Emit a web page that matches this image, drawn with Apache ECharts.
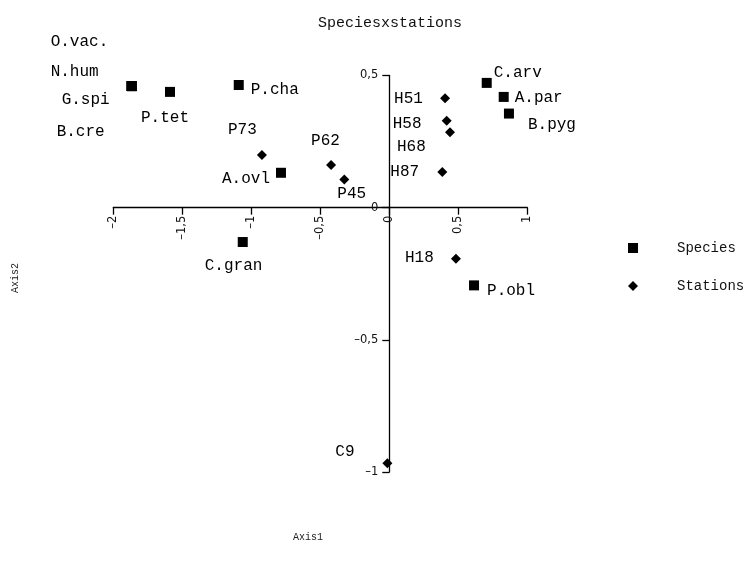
<!DOCTYPE html>
<html>
<head>
<meta charset="utf-8">
<script src="https://cdn.jsdelivr.net/npm/echarts@6/dist/echarts.min.js"></script>
<style>
  html, body { margin: 0; padding: 0; background: #fff; }
  #chart { width: 746px; height: 570px; }
</style>
</head>
<body>
<div id="chart"></div>
<script>
// Ordination scores: species and stations on the first two axes
const speciesNames = ['O.vac.', 'N.hum', 'G.spi', 'B.cre', 'P.tet', 'P.cha', 'A.ovl', 'C.gran', 'C.arv', 'A.par', 'B.pyg', 'P.obl'];
const speciesAxis1 = [-1.867, -1.867, -1.867, -1.867, -1.589, -1.091, -0.785, -1.062, 0.706, 0.829, 0.867, 0.614];
const speciesAxis2 = [0.460, 0.460, 0.460, 0.460, 0.438, 0.464, 0.132, -0.130, 0.472, 0.419, 0.356, -0.294];

const stationNames = ['P73', 'P62', 'P45', 'H51', 'H58', 'H68', 'H87', 'H18', 'C9'];
const stationAxis1 = [-0.923, -0.422, -0.326, 0.404, 0.416, 0.440, 0.384, 0.483, -0.014];
const stationAxis2 = [0.199, 0.161, 0.107, 0.414, 0.329, 0.285, 0.135, -0.193, -0.967];

const axis1Ticks = { min: -2, max: 1, interval: 0.5 };
const axis2Ticks = { min: -1, max: 0.5, interval: 0.5 };

// Where each point's name sits relative to its marker (text left edge, text middle)
const labelOffsets = {
  'O.vac.': [-81, -44], 'N.hum': [-81, -14], 'G.spi': [-70, 14], 'B.cre': [-75, 46],
  'P.tet': [-29, 26], 'P.cha': [12, 5], 'A.ovl': [-59, 6], 'C.gran': [-38, 24],
  'C.arv': [7, -10], 'A.par': [11, 1], 'B.pyg': [19, 11], 'P.obl': [13, 5],
  'P73': [-34, -25], 'P62': [-20, -24], 'P45': [-7, 14], 'H51': [-51, 1],
  'H58': [-54, 3], 'H68': [-53, 14], 'H87': [-52, 0], 'H18': [-51, -1], 'C9': [-52, -12]
};

const MONO = "'Courier New', 'Liberation Mono', monospace";

function points(names, xs, ys) {
  return names.map((n, i) => ({
    name: n,
    value: [xs[i], ys[i]],
    label: { offset: labelOffsets[n] }
  }));
}

function tickText(v) {
  return String(v).replace('.', ',').replace('-', '\u2013');
}

const pointLabel = {
  show: true,
  position: 'inside',
  align: 'left',
  verticalAlign: 'middle',
  formatter: p => p.name,
  fontFamily: MONO,
  fontSize: 16,
  color: '#000'
};

const axisLine = { onZero: false, lineStyle: { color: '#000', width: 1.3 } };
const axisTick = { show: true, length: 7, lineStyle: { color: '#000', width: 1.3 } };
const tickLabel = { fontFamily: 'DejaVu Sans', fontSize: 11.5, color: '#111', formatter: tickText };

const chart = echarts.init(document.getElementById('chart'), null, { renderer: 'canvas' });

chart.setOption({
  animation: false,
  backgroundColor: '#fff',
  title: {
    text: 'Speciesxstations',
    left: 385,
    top: 11,
    textAlign: 'center',
    textStyle: { fontFamily: MONO, fontSize: 15, fontWeight: 'normal', color: '#111' }
  },
  legend: {
    orient: 'vertical',
    left: 623,
    top: 235,
    itemWidth: 10,
    itemHeight: 10,
    itemGap: 22,
    data: [
      { name: 'Species', icon: 'rect' },
      { name: 'Stations', icon: 'diamond' }
    ],
    textStyle: { fontFamily: MONO, fontSize: 14, color: '#111', lineHeight: 16, padding: [0, 0, 0, 34] }
  },
  grid: { left: 113.3, right: 218.7, top: 75.5, bottom: 98 },
  xAxis: {
    type: 'value',
    min: axis1Ticks.min,
    max: axis1Ticks.max,
    interval: axis1Ticks.interval,
    axisLine: axisLine,
    axisTick: axisTick,
    splitLine: { show: false },
    axisLabel: Object.assign({ rotate: 90, margin: 8 }, tickLabel)
  },
  yAxis: {
    type: 'value',
    min: axis2Ticks.min,
    max: axis2Ticks.max,
    interval: axis2Ticks.interval,
    axisLine: axisLine,
    axisTick: axisTick,
    splitLine: { show: false },
    axisLabel: Object.assign({ margin: 11 }, tickLabel)
  },
  graphic: [
    {
      type: 'text', left: 293, top: 532,
      style: { text: 'Axis1', font: "10px " + MONO, fill: '#222' }
    },
    {
      type: 'text', x: 15, y: 278, rotation: Math.PI / 2,
      style: { text: 'Axis2', font: "10px " + MONO, fill: '#222', align: 'center', verticalAlign: 'middle' }
    }
  ],
  series: [
    {
      name: 'Species',
      type: 'scatter',
      symbol: 'rect',
      symbolSize: 10,
      itemStyle: { color: '#000', opacity: 1 },
      label: pointLabel,
      data: points(speciesNames, speciesAxis1, speciesAxis2)
    },
    {
      name: 'Stations',
      type: 'scatter',
      symbol: 'diamond',
      symbolSize: 10,
      itemStyle: { color: '#000', opacity: 1 },
      label: pointLabel,
      data: points(stationNames, stationAxis1, stationAxis2)
    }
  ]
});

// Move both axes (line, ticks and labels) so they cross at the origin
const origin = chart.convertToPixel({ gridIndex: 0 }, [0, 0]);
const corner = chart.convertToPixel({ gridIndex: 0 }, [axis1Ticks.min, axis2Ticks.min]);
chart.setOption({
  xAxis: { offset: -(corner[1] - origin[1]) },
  yAxis: { offset: -(origin[0] - corner[0]) }
});
</script>
</body>
</html>
